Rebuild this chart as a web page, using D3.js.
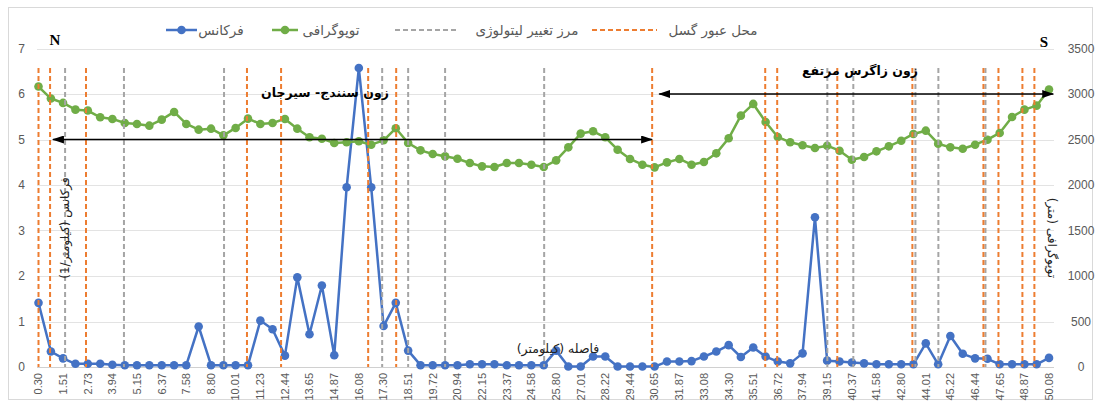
<!DOCTYPE html>
<html>
<head>
<meta charset="utf-8">
<script src="https://cdn.jsdelivr.net/npm/d3@7"></script>
<style>
  body { margin: 0; background: #fff; }
  svg { display: block; }
  .fa { font-family: "DejaVu Sans", sans-serif; }
</style>
</head>
<body>
<div id="chart"></div>
<script>
// distance along profile (km), one per sample
const distances = [0.30, 0.91, 1.51, 2.12, 2.73, 3.34, 3.94, 4.55, 5.15, 5.76, 6.37, 6.98, 7.58, 8.19, 8.80, 9.41,
  10.01, 10.62, 11.23, 11.83, 12.44, 13.05, 13.65, 14.26, 14.87, 15.48, 16.08, 16.69, 17.30, 17.90, 18.51, 19.12,
  19.72, 20.33, 20.94, 21.55, 22.15, 22.76, 23.37, 23.97, 24.58, 25.19, 25.80, 26.40, 27.01, 27.62, 28.22, 28.83,
  29.44, 30.05, 30.65, 31.26, 31.87, 32.47, 33.08, 33.69, 34.30, 34.90, 35.51, 36.12, 36.72, 37.33, 37.94, 38.55,
  39.15, 39.76, 40.37, 40.97, 41.58, 42.19, 42.80, 43.40, 44.01, 44.62, 45.22, 45.83, 46.44, 47.05, 47.65, 48.26,
  48.87, 49.47, 50.08];

// tick labels shown on x axis (every other sample)
const xTickLabels = ['0.30', '1.51', '2.73', '3.94', '5.15', '6.37', '7.58', '8.80', '10.01', '11.23', '12.44',
  '13.65', '14.87', '16.08', '17.30', '18.51', '19.72', '20.94', '22.15', '23.37', '24.58', '25.80', '27.01',
  '28.22', '29.44', '30.65', '31.87', '33.08', '34.30', '35.51', '36.72', '37.94', '39.15', '40.37', '41.58',
  '42.80', '44.01', '45.22', '46.44', '47.65', '48.87', '50.08'];

// frequency (1/km) - left axis
const frequency = [1.41, 0.34, 0.19, 0.07, 0.07, 0.07, 0.05, 0.04, 0.04, 0.04, 0.04, 0.04, 0.04, 0.89, 0.04, 0.04,
  0.04, 0.04, 1.02, 0.83, 0.25, 1.97, 0.72, 1.79, 0.26, 3.95, 6.57, 3.95, 0.90, 1.41, 0.36, 0.04,
  0.04, 0.04, 0.04, 0.06, 0.06, 0.06, 0.04, 0.04, 0.04, 0.04, 0.36, 0.01, 0.01, 0.23, 0.23, 0.01,
  0.01, 0.01, 0.01, 0.12, 0.12, 0.13, 0.23, 0.34, 0.48, 0.22, 0.43, 0.23, 0.12, 0.08, 0.30, 3.29,
  0.14, 0.12, 0.10, 0.08, 0.06, 0.06, 0.06, 0.06, 0.52, 0.06, 0.68, 0.29, 0.19, 0.18, 0.06, 0.06,
  0.06, 0.06, 0.20];

// topography (m) - right axis
const topography = [3082, 2950, 2902, 2828, 2818, 2744, 2726, 2682, 2671, 2652, 2718, 2803, 2671, 2608, 2619, 2546,
  2627, 2729, 2671, 2682, 2726, 2619, 2524, 2509, 2462, 2469, 2480, 2443, 2491, 2623, 2462, 2381,
  2341, 2315, 2289, 2242, 2205, 2198, 2242, 2242, 2223, 2198, 2271, 2414, 2565, 2590, 2524, 2388,
  2286, 2223, 2194, 2249, 2286, 2223, 2252, 2348, 2513, 2762, 2891, 2693, 2528, 2469, 2436, 2407,
  2432, 2377, 2278, 2308, 2370, 2425, 2487, 2561, 2597, 2454, 2414, 2399, 2443, 2498, 2572, 2748,
  2828, 2872, 3049];

// fault crossings and lithology boundaries (km)
const faultCrossings = [0.30, 0.87, 2.64, 10.57, 12.25, 16.54, 17.92, 30.53, 36.10, 36.69, 39.65, 43.35, 46.85,
  47.59, 48.77, 49.36];
const lithologyBoundaries = [1.61, 4.51, 9.44, 17.23, 18.51, 20.33, 25.21, 39.16, 40.44, 43.50, 44.63, 46.95];

// zone arrows: [from km, to km, level on left axis]
const zoneArrows = [[1.01, 30.53, 5.0], [30.88, 50.29, 6.0]];

const leftTicks = [0, 1, 2, 3, 4, 5, 6, 7];
const rightTicks = [0, 500, 1000, 1500, 2000, 2500, 3000, 3500];

const width = 1097, height = 402;
const blue = '#4472C4', green = '#70AD47', orange = '#ED7D31', grey = '#A5A5A5';
const textGrey = '#595959';

const svg = d3.select('#chart').append('svg')
  .attr('width', width)
  .attr('height', height);

svg.append('rect')
  .attr('x', 8.5).attr('y', 7.5)
  .attr('width', 1084).attr('height', 392)
  .attr('fill', '#fff')
  .attr('stroke', '#D9D9D9');

const x = d3.scaleLinear().domain([0.30, 50.08]).range([38.5, 1049]);
const yL = d3.scaleLinear().domain([0, 7]).range([367, 48.5]);
const yR = d3.scaleLinear().domain([0, 3500]).range([367, 48.5]);

// gridlines
svg.append('g')
  .selectAll('line')
  .data(leftTicks)
  .join('line')
  .attr('x1', 37).attr('x2', 1054)
  .attr('y1', d => Math.round(yL(d)) + 0.5)
  .attr('y2', d => Math.round(yL(d)) + 0.5)
  .attr('stroke', d => d === 0 ? '#D0D0D0' : '#E3E3E3')
  .attr('stroke-width', 1);

// left axis labels
svg.append('g')
  .selectAll('text')
  .data(leftTicks)
  .join('text')
  .attr('x', 25)
  .attr('y', d => yL(d))
  .attr('dy', '0.35em')
  .attr('text-anchor', 'end')
  .attr('font-family', 'Liberation Sans, Arial, sans-serif')
  .attr('font-size', 12)
  .attr('fill', textGrey)
  .text(d => d);

// right axis labels
svg.append('g')
  .selectAll('text')
  .data(rightTicks)
  .join('text')
  .attr('x', 1081)
  .attr('y', d => yR(d))
  .attr('dy', '0.35em')
  .attr('text-anchor', 'middle')
  .attr('font-family', 'Liberation Sans, Arial, sans-serif')
  .attr('font-size', 12)
  .attr('fill', textGrey)
  .text(d => d);

// x tick labels (rotated)
svg.append('g')
  .selectAll('text')
  .data(xTickLabels)
  .join('text')
  .attr('transform', d => `translate(${x(+d)},373) rotate(-90)`)
  .attr('dy', '0.35em')
  .attr('text-anchor', 'end')
  .attr('font-family', 'Liberation Sans, Arial, sans-serif')
  .attr('font-size', 11)
  .attr('fill', textGrey)
  .text(d => d);

// frequency series
const lineL = d3.line().x((d, i) => x(distances[i])).y(d => yL(d));
svg.append('path')
  .datum(frequency)
  .attr('d', lineL)
  .attr('fill', 'none')
  .attr('stroke', blue)
  .attr('stroke-width', 2.5)
  .attr('stroke-linejoin', 'round');
svg.append('g')
  .selectAll('circle')
  .data(frequency)
  .join('circle')
  .attr('cx', (d, i) => x(distances[i]))
  .attr('cy', d => yL(d))
  .attr('r', 4.3)
  .attr('fill', blue);

// topography series
const lineR = d3.line().x((d, i) => x(distances[i])).y(d => yR(d));
svg.append('path')
  .datum(topography)
  .attr('d', lineR)
  .attr('fill', 'none')
  .attr('stroke', green)
  .attr('stroke-width', 2.5)
  .attr('stroke-linejoin', 'round');
svg.append('g')
  .selectAll('circle')
  .data(topography)
  .join('circle')
  .attr('cx', (d, i) => x(distances[i]))
  .attr('cy', d => yR(d))
  .attr('r', 4.3)
  .attr('fill', green);

// vertical dashed markers
function drawVerticals(data, color) {
  svg.append('g')
    .selectAll('line')
    .data(data)
    .join('line')
    .attr('x1', d => x(d)).attr('x2', d => x(d))
    .attr('y1', 68).attr('y2', yL(0))
    .attr('stroke', color)
    .attr('stroke-width', 2)
    .attr('stroke-dasharray', '5,3');
}
drawVerticals(lithologyBoundaries, grey);
drawVerticals(faultCrossings, orange);

// arrows
const defs = svg.append('defs');
defs.append('marker')
  .attr('id', 'arrow')
  .attr('viewBox', '0 0 12 8')
  .attr('refX', 11).attr('refY', 4)
  .attr('markerWidth', 12).attr('markerHeight', 8)
  .attr('markerUnits', 'userSpaceOnUse')
  .attr('orient', 'auto-start-reverse')
  .append('path')
  .attr('d', 'M0,0 L12,4 L0,8 Z')
  .attr('fill', '#000');

svg.append('g')
  .selectAll('line')
  .data(zoneArrows)
  .join('line')
  .attr('x1', d => x(d[0])).attr('x2', d => x(d[1]))
  .attr('y1', d => yL(d[2])).attr('y2', d => yL(d[2]))
  .attr('stroke', '#000')
  .attr('stroke-width', 1.6)
  .attr('marker-start', 'url(#arrow)')
  .attr('marker-end', 'url(#arrow)');

// annotations
svg.append('text').attr('class', 'fa')
  .attr('x', 325).attr('y', 97)
  .attr('text-anchor', 'middle')
  .attr('font-size', 12.5).attr('font-weight', 'bold')
  .text('زون سنندج- سیرجان');

svg.append('text').attr('class', 'fa')
  .attr('x', 860).attr('y', 75)
  .attr('text-anchor', 'middle')
  .attr('font-size', 12.5).attr('font-weight', 'bold')
  .text('زون زاگرس مرتفع');

svg.append('text').attr('class', 'fa')
  .attr('x', 558).attr('y', 353)
  .attr('text-anchor', 'middle')
  .attr('font-size', 12.5)
  .attr('fill', '#222')
  .text('فاصله (کیلومتر)');

svg.append('text').attr('class', 'fa')
  .attr('transform', 'translate(69,228) rotate(-90)')
  .attr('text-anchor', 'middle')
  .attr('font-size', 12)
  .attr('fill', '#222')
  .text('فرکانس (کیلومتر/1)');

svg.append('text').attr('class', 'fa')
  .attr('transform', 'translate(1048,238) rotate(90)')
  .attr('text-anchor', 'middle')
  .attr('font-size', 12)
  .attr('fill', '#222')
  .text('توپوگرافی (متر)');

svg.append('text')
  .attr('x', 55).attr('y', 45)
  .attr('text-anchor', 'middle')
  .attr('font-family', 'Liberation Serif, serif')
  .attr('font-size', 15).attr('font-weight', 'bold')
  .text('N');

svg.append('text')
  .attr('x', 1044).attr('y', 47)
  .attr('text-anchor', 'middle')
  .attr('font-family', 'Liberation Serif, serif')
  .attr('font-size', 15).attr('font-weight', 'bold')
  .text('S');

// legend
const legend = svg.append('g');
const legendItems = [
  { label: 'فرکانس', color: blue, dash: null, x1: 166, x2: 197, tx: 221 },
  { label: 'توپوگرافی', color: green, dash: null, x1: 272, x2: 298, tx: 331 },
  { label: 'مرز تغییر لیتولوژی', color: grey, dash: '5,3', x1: 395, x2: 457, tx: 527 },
  { label: 'محل عبور گسل', color: orange, dash: '5,3', x1: 592, x2: 657, tx: 713 }
];
legendItems.forEach(it => {
  legend.append('line')
    .attr('x1', it.x1).attr('x2', it.x2)
    .attr('y1', 30).attr('y2', 30)
    .attr('stroke', it.color)
    .attr('stroke-width', it.dash ? 2 : 2.5)
    .attr('stroke-dasharray', it.dash);
  if (!it.dash) {
    legend.append('circle')
      .attr('cx', (it.x1 + it.x2) / 2).attr('cy', 30)
      .attr('r', 4.3).attr('fill', it.color);
  }
  legend.append('text').attr('class', 'fa')
    .attr('x', it.tx).attr('y', 30)
    .attr('dy', '0.35em')
    .attr('text-anchor', 'middle')
    .attr('font-size', 13.5)
    .attr('fill', textGrey)
    .text(it.label);
});
</script>
</body>
</html>
